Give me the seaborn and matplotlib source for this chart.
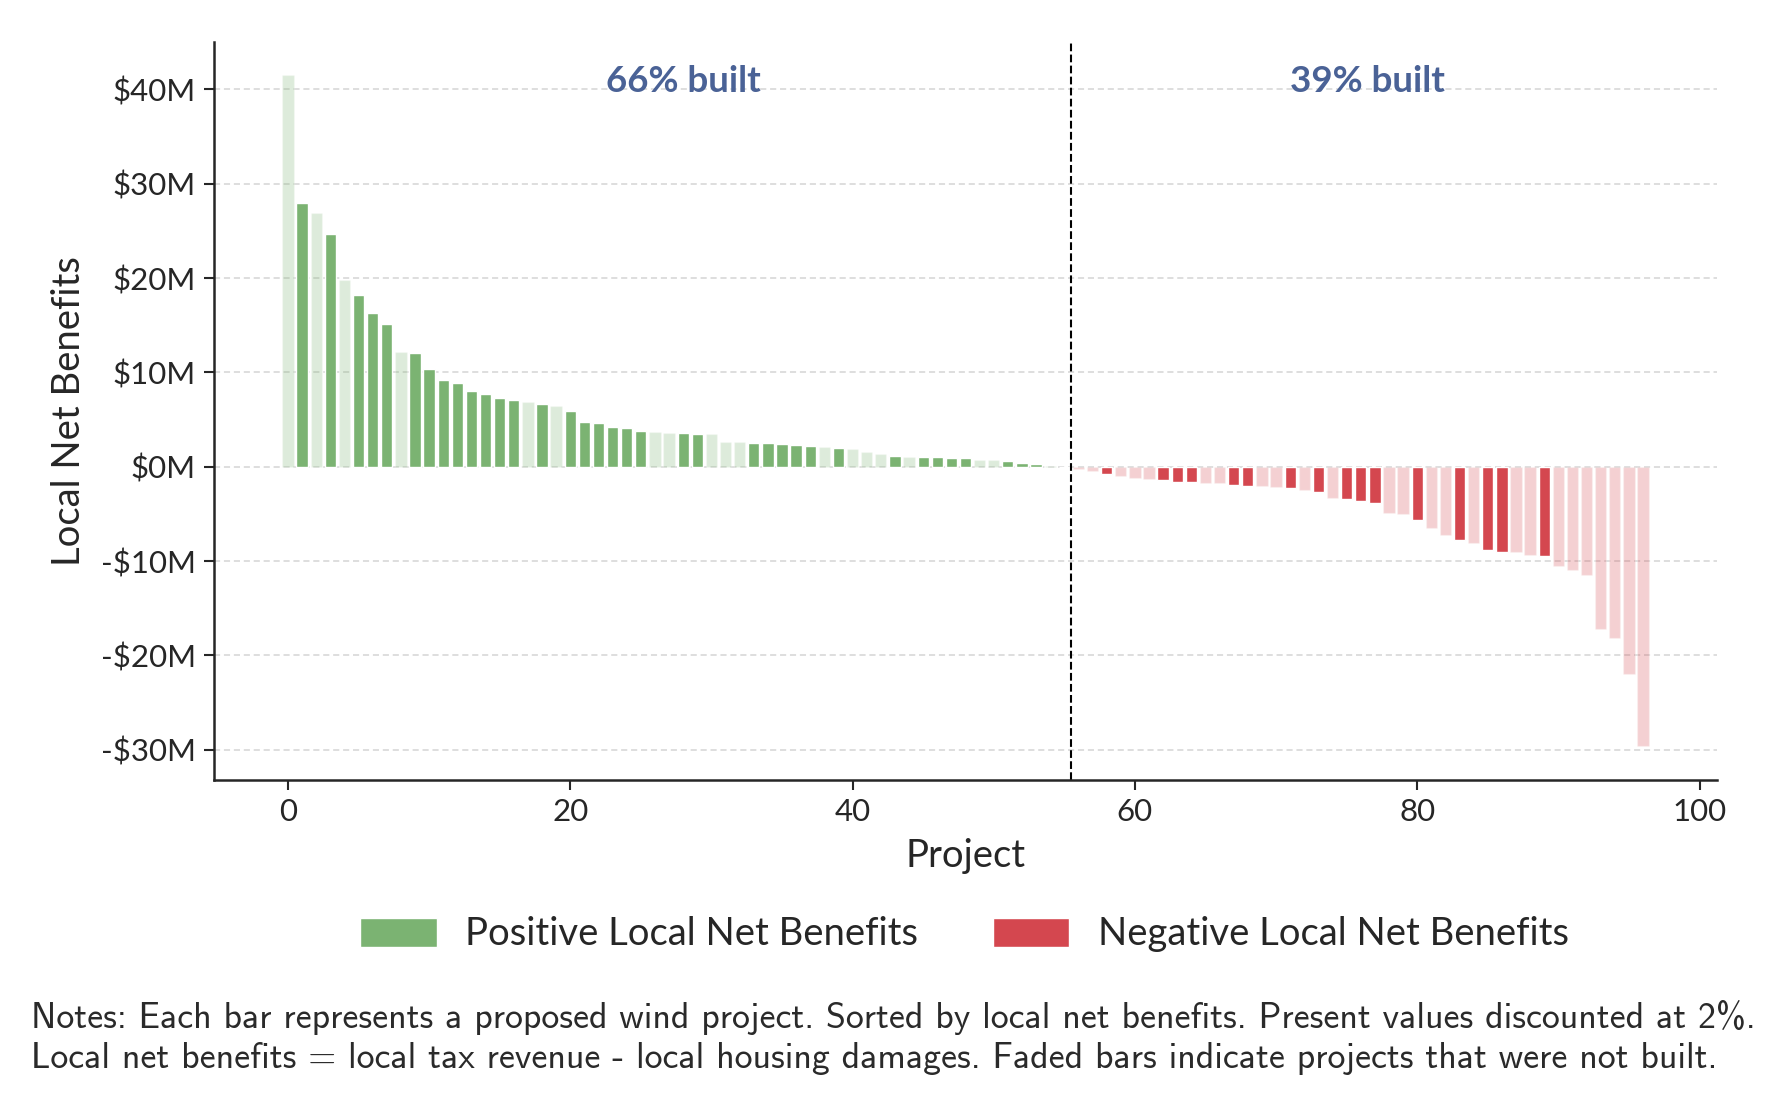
import numpy as np
import pandas as pd
import matplotlib.pyplot as plt
import seaborn as sns
from matplotlib.patches import Patch
from matplotlib.ticker import FuncFormatter, MultipleLocator

# --- Data: local net benefits per proposed project ($M), sorted high to low ---
benefits = [41.5, 28.0, 26.9, 24.7, 19.75, 18.25, 16.25, 15.15, 12.2, 12.1,
            10.4, 9.15, 8.9, 8.0, 7.75, 7.25, 7.1, 6.85, 6.65, 6.45,
            5.95, 4.8, 4.65, 4.22, 4.15, 3.8, 3.67, 3.55, 3.53, 3.45,
            3.43, 2.66, 2.63, 2.55, 2.55, 2.41, 2.34, 2.19, 2.05, 1.98,
            1.87, 1.55, 1.37, 1.19, 1.08, 1.08, 1.08, 0.94, 0.94, 0.76,
            0.68, 0.58, 0.40, 0.29, 0.11, 0.03,
            -0.28, -0.42, -0.78, -0.99, -1.24, -1.34, -1.45, -1.59, -1.59, -1.73,
            -1.73, -1.94, -2.08, -2.08, -2.16, -2.30, -2.44, -2.69, -3.29, -3.39,
            -3.67, -3.89, -4.88, -5.02, -5.65, -6.47, -7.21, -7.77, -8.09, -8.80,
            -9.05, -9.08, -9.33, -9.43, -10.53, -10.99, -11.48, -17.17, -18.2, -21.94,
            -29.6]

# 1 = built, 0 = not built (faded bars)
built = [0, 1, 0, 1, 0, 1, 1, 1, 0, 1,
         1, 1, 1, 1, 1, 1, 1, 0, 1, 0,
         1, 1, 1, 1, 1, 1, 0, 0, 1, 1,
         0, 0, 0, 1, 1, 1, 1, 1, 0, 1,
         0, 0, 0, 1, 0, 1, 1, 1, 1, 0,
         0, 1, 1, 1, 0, 1,
         0, 0, 1, 0, 0, 0, 1, 1, 1, 0,
         0, 1, 1, 0, 0, 1, 0, 1, 0, 1,
         1, 1, 0, 0, 1, 0, 0, 1, 0, 1,
         1, 0, 0, 1, 0, 0, 0, 0, 0, 0,
         0]

legend_labels = ["Positive Local Net Benefits", "Negative Local Net Benefits"]
notes = ["Notes: Each bar represents a proposed wind project. Sorted by local net benefits. "
         "Present values discounted at 2%.",
         "Local net benefits = local tax revenue - local housing damages. "
         "Faded bars indicate projects that were not built."]

df = pd.DataFrame({"benefit": benefits, "built": built})
df["project"] = np.arange(len(df))
df["sign"] = np.where(df["benefit"] > 0, "Positive", "Negative")

GREEN = "#7bb372"
RED = "#d4474f"
palette = {"Positive": GREEN, "Negative": RED}

sns.set_style("ticks")
plt.rcParams["font.family"] = ["Lato", "DejaVu Sans"]

fig, ax = plt.subplots(figsize=(17.83, 10.98), dpi=100)
fig.subplots_adjust(left=0.120, right=0.963, top=0.962, bottom=0.290)
ax.set_axisbelow(True)
ax.yaxis.grid(True, color="#d4d4d4", linestyle=(0, (4, 2.5)), linewidth=1.1)

# --- Bars: built solid, not built faded ---
for is_built, alpha in [(1, 1.0), (0, 0.25)]:
    sub = df[df["built"] == is_built]
    sns.barplot(data=sub, x="project", y="benefit", hue="sign", palette=palette,
                native_scale=True, dodge=False, errorbar=None, saturation=1,
                alpha=alpha, width=0.8, legend=False, ax=ax)

# --- Split line + built shares ---
pos = df[df["sign"] == "Positive"]
neg = df[df["sign"] == "Negative"]
split_x = (pos["project"].max() + neg["project"].min()) / 2
ax.axvline(split_x, color="black", linestyle="--", linewidth=1.5)

pct_pos = round(100 * pos["built"].mean())
pct_neg = round(100 * neg["built"].mean())
ax.text(28, 0.946, f"{pct_pos}% built", transform=ax.get_xaxis_transform(),
        ha="center", va="center", fontsize=26.5, fontweight="bold", color="#4a6296")
ax.text(76.5, 0.946, f"{pct_neg}% built", transform=ax.get_xaxis_transform(),
        ha="center", va="center", fontsize=26.5, fontweight="bold", color="#4a6296")

# --- Axes styling ---
ax.yaxis.set_major_locator(MultipleLocator(10))
ax.xaxis.set_major_locator(MultipleLocator(20))
ax.yaxis.set_major_formatter(FuncFormatter(
    lambda v, _: f"${v:.0f}M" if v >= 0 else f"-${-v:.0f}M"))
ax.tick_params(labelsize=22.5, length=7, width=1.5, pad=6)
for side in ["left", "bottom"]:
    ax.spines[side].set_linewidth(1.8)
sns.despine(ax=ax)
ax.set_xlabel("Project", fontsize=27.5, labelpad=9)
ax.set_ylabel("Local Net Benefits", fontsize=27.5, labelpad=10)

# --- Legend ---
handles = [Patch(facecolor=GREEN), Patch(facecolor=RED)]
fig.legend(handles, legend_labels, loc="center", bbox_to_anchor=(0.541, 0.149),
           ncol=2, frameon=False, fontsize=27.5, handlelength=2.0, handleheight=0.8,
           handletextpad=0.75, columnspacing=1.95)

# --- Notes ---
fig.text(0.0172, 0.064, notes[0], family=["cmss10", "DejaVu Sans"], fontsize=25.8,
         color="#2a2a2a", va="baseline")
fig.text(0.0172, 0.027, notes[1], family=["cmss10", "DejaVu Sans"], fontsize=25.8,
         color="#2a2a2a", va="baseline")

fig.savefig("out.png", dpi=100)
